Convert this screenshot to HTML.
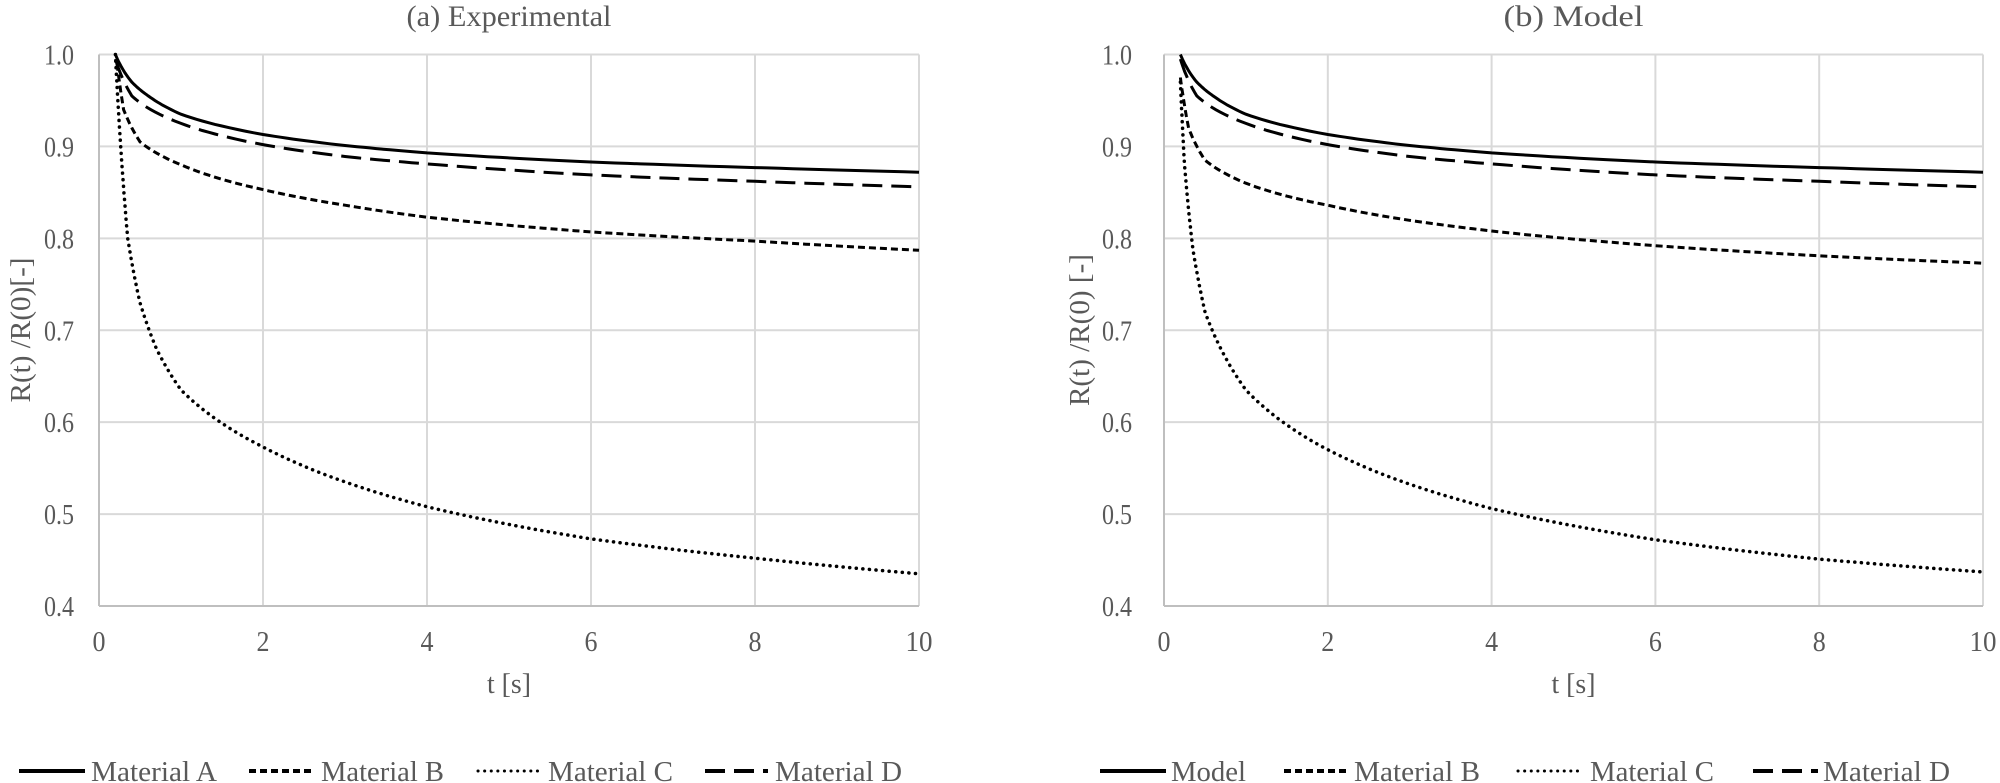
<!DOCTYPE html>
<html><head><meta charset="utf-8"><style>
html,body{margin:0;padding:0;background:#fff;}
svg{display:block;font-family:"Liberation Serif",serif;}
</style></head><body>
<svg id="s" width="2000" height="783" viewBox="0 0 2000 783" xmlns="http://www.w3.org/2000/svg"></svg>
<script>
const s=document.getElementById('s');
const Y0=54.5,Y1=606;
let h='';
function txt(x,y,t,anchor,size,w,extra){
  h+=`<text x="${x}" y="${y}" text-anchor="${anchor}" font-size="${size}" fill="#595959" ${w?`textLength="${w}" lengthAdjust="spacingAndGlyphs"`:''} ${extra||''}>${t}</text>`;
}
function chart(x0,x1,title,tw,series,ylx,ytx,leg){
  const X=t=>x0+(x1-x0)*t/10, Yv=v=>Y1-(Y1-Y0)*(v-0.4)/0.6;
  for(let i=1;i<=5;i++){h+=`<line x1="${X(i*2)}" y1="${Y0}" x2="${X(i*2)}" y2="${Y1}" stroke="#d9d9d9" stroke-width="2"/>`;}
  for(let i=0;i<6;i++){const v=0.5+i*0.1;h+=`<line x1="${x0}" y1="${Yv(v)}" x2="${x1}" y2="${Yv(v)}" stroke="#d9d9d9" stroke-width="2"/>`;}
  h+=`<line x1="${x0}" y1="${Y0}" x2="${x0}" y2="${Y1}" stroke="#bfbfbf" stroke-width="2"/>`;
  h+=`<line x1="${x0}" y1="${Y1}" x2="${x1}" y2="${Y1}" stroke="#bfbfbf" stroke-width="2"/>`;
  for(let i=0;i<=6;i++){const v=(0.4+i*0.1).toFixed(1);txt(ylx,Yv(+v)+10,v,'end',28,30);}
  for(let i=0;i<=5;i++){txt(X(i*2),651,i*2,'middle',28,i==5?27:13);}
  txt((x0+x1)/2,693,'t [s]','middle',28,44);
  txt((x0+x1)/2,26,title,'middle',30,tw);
  h+=`<text x="0" y="0" text-anchor="middle" font-size="28" fill="#595959" transform="translate(${ytx},330) rotate(-90)" textLength="${ytx<100?145:152}" lengthAdjust="spacingAndGlyphs">R(t) /R(0)${ytx<100?'[-]':' [-]'}</text>`;
  const styles={A:'',B:'stroke-dasharray="7 4"',C:'stroke-dasharray="0.1 6.5" stroke-linecap="round"',D:'stroke-dasharray="20 9"'};
  for(const sr of series){
    const p=sr.pts;let d='';
    for(let k=0;k<p.length-1;k++){
      const [ta,va]=p[k],[tb,vb]=p[k+1];
      for(let j=0;j<12;j++){const f=j/12;const t=Math.exp(Math.log(ta)+(Math.log(tb)-Math.log(ta))*f);
        const v=va+(vb-va)*f;d+=(d?'L':'M')+X(t).toFixed(1)+','+Yv(v).toFixed(1);}
    }
    const L=p[p.length-1];d+='L'+X(L[0]).toFixed(1)+','+Yv(L[1]).toFixed(1);
    h+=`<path d="${d}" fill="none" stroke="#000" stroke-width="${sr.k=='C'?3.5:3}" ${styles[sr.k]}/>`;
  }
  for(const l of leg){
    h+=`<line x1="${l[0]}" y1="771" x2="${l[1]}" y2="771" stroke="#000" stroke-width="${l[4]=='C'?3:4}" ${styles[l[4]]}/>`;
    txt(l[2],781,l[3],'start',28,l[5]);
  }
}
const A=[[0.2,1.0],[0.4,0.97],[0.6,0.955],[1,0.935],[2,0.913],[3,0.901],[4,0.893],[6,0.883],[8,0.877],[10,0.872]];
const D=[[0.2,0.995],[0.4,0.955],[1,0.925],[2,0.902],[3,0.889],[4,0.881],[6,0.869],[8,0.862],[10,0.856]];
chart(99,919,'(a) Experimental',205,[
 {k:'A',pts:A},
 {k:'B',pts:[[0.22,0.99],[0.3,0.94],[0.5,0.905],[1,0.88],[2,0.853],[3,0.836],[4,0.823],[6,0.807],[8,0.797],[10,0.787]]},
 {k:'C',pts:[[0.2,1.0],[0.25,0.92],[0.35,0.8],[0.5,0.73],[0.7,0.68],[1,0.635],[2,0.573],[3,0.535],[4,0.508],[6,0.473],[8,0.452],[10,0.435]]},
 {k:'D',pts:D}],74,30,
 [[19,85,91,'Material A','A',126],[249,312,321,'Material B','B',123],[478,539,548,'Material C','C',125],[705,768,775,'Material D','D',127]]);
chart(1164,1983,'(b) Model',140,[
 {k:'A',pts:A},
 {k:'B',pts:[[0.2,0.975],[0.3,0.92],[0.5,0.885],[1,0.86],[2,0.836],[4,0.808],[6,0.792],[8,0.781],[10,0.773]]},
 {k:'C',pts:[[0.2,0.97],[0.25,0.88],[0.35,0.79],[0.5,0.72],[1,0.635],[2,0.57],[4,0.506],[6,0.472],[8,0.451],[10,0.437]]},
 {k:'D',pts:D}],1132,1089,
 [[1100,1166,1171,'Model','A',75],[1284,1349,1354,'Material B','B',126],[1518,1580,1590,'Material C','C',124],[1753,1818,1823,'Material D','D',127]]);
s.innerHTML=h;
</script>
</body></html>
